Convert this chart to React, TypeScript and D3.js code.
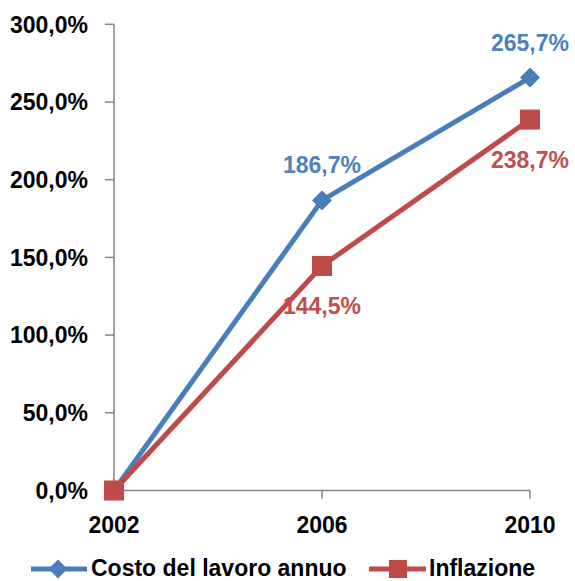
import React from "react";
import * as d3 from "d3";

const years = ["2002", "2006", "2010"];
const costoLavoro = [0, 186.7, 265.7];
const inflazione = [0, 144.5, 238.7];
const yTicks = [0, 50, 100, 150, 200, 250, 300];
const seriesNames = ["Costo del lavoro annuo", "Inflazione"];

const W = 575;
const H = 581;
const FONT = "'Liberation Sans', Arial, sans-serif";
const BLUE = "#4A7EBB";
const RED = "#BE4B48";
const AXIS = "#868686";

const fmt = (v: number) => v.toFixed(1).replace(".", ",") + "%";

export default function App() {
  const x = d3.scalePoint<string>().domain(years).range([114, 530]);
  const y = d3.scaleLinear().domain([0, 300]).range([490.5, 24.3]);
  const line = d3
    .line<number>()
    .x((_, i) => x(years[i]) as number)
    .y((d) => y(d));

  const diamond = (cx: number, cy: number, r: number) =>
    `M${cx},${cy - r}L${cx + r},${cy}L${cx},${cy + r}L${cx - r},${cy}Z`;

  return (
    <svg
      width={W}
      height={H}
      style={{ position: "fixed", left: 0, top: 0, background: "#fff" }}
      fontFamily={FONT}
      fontWeight="bold"
    >
      {/* y axis */}
      <line x1={114} x2={114} y1={y(300)} y2={y(0)} stroke={AXIS} strokeWidth={1.5} />
      {yTicks.map((t) => (
        <g key={t}>
          <line x1={105} x2={114} y1={y(t)} y2={y(t)} stroke={AXIS} strokeWidth={1.5} />
          <text x={88} y={y(t)} dy="0.36em" textAnchor="end" fontSize={23} fill="#000">
            {fmt(t)}
          </text>
        </g>
      ))}
      {/* x axis */}
      <line x1={114} x2={530} y1={y(0)} y2={y(0)} stroke={AXIS} strokeWidth={1.5} />
      {years.map((yr) => (
        <g key={yr}>
          <line x1={x(yr)} x2={x(yr)} y1={y(0)} y2={y(0) + 8} stroke={AXIS} strokeWidth={1.5} />
          <text x={x(yr)} y={533} textAnchor="middle" fontSize={23} fill="#000">
            {yr}
          </text>
        </g>
      ))}
      {/* lines */}
      <path d={line(costoLavoro) || ""} fill="none" stroke={BLUE} strokeWidth={5} strokeLinejoin="round" />
      <path d={line(inflazione) || ""} fill="none" stroke={RED} strokeWidth={5} strokeLinejoin="round" />
      {costoLavoro.map((v, i) => (
        <path key={"d" + i} d={diamond(x(years[i]) as number, y(v), 9.5)} fill={BLUE} stroke={BLUE} strokeWidth={1} />
      ))}
      {inflazione.map((v, i) => (
        <rect
          key={"s" + i}
          x={(x(years[i]) as number) - 9.5}
          y={y(v) - 9.5}
          width={19}
          height={19}
          fill={RED}
          stroke={RED}
          strokeWidth={1}
        />
      ))}
      {/* data labels */}
      {costoLavoro.map((v, i) =>
        i === 0 ? null : (
          <text key={"lc" + i} x={x(years[i])} y={y(v) - 27} textAnchor="middle" fontSize={23} fill="#4F81BD">
            {fmt(v)}
          </text>
        )
      )}
      {inflazione.map((v, i) =>
        i === 0 ? null : (
          <text key={"li" + i} x={x(years[i])} y={y(v) + 48} textAnchor="middle" fontSize={23} fill="#C0504D">
            {fmt(v)}
          </text>
        )
      )}
      {/* legend */}
      <line x1={31} x2={87} y1={569} y2={569} stroke={BLUE} strokeWidth={5} />
      <path d={diamond(58, 569, 9.5)} fill={BLUE} />
      <text x={91} y={576} fontSize={23} fill="#000">
        {seriesNames[0]}
      </text>
      <line x1={369} x2={426} y1={569} y2={569} stroke={RED} strokeWidth={5} />
      <rect x={389} y={560} width={18} height={18} fill={RED} />
      <text x={429} y={576} fontSize={23} fill="#000">
        {seriesNames[1]}
      </text>
    </svg>
  );
}
